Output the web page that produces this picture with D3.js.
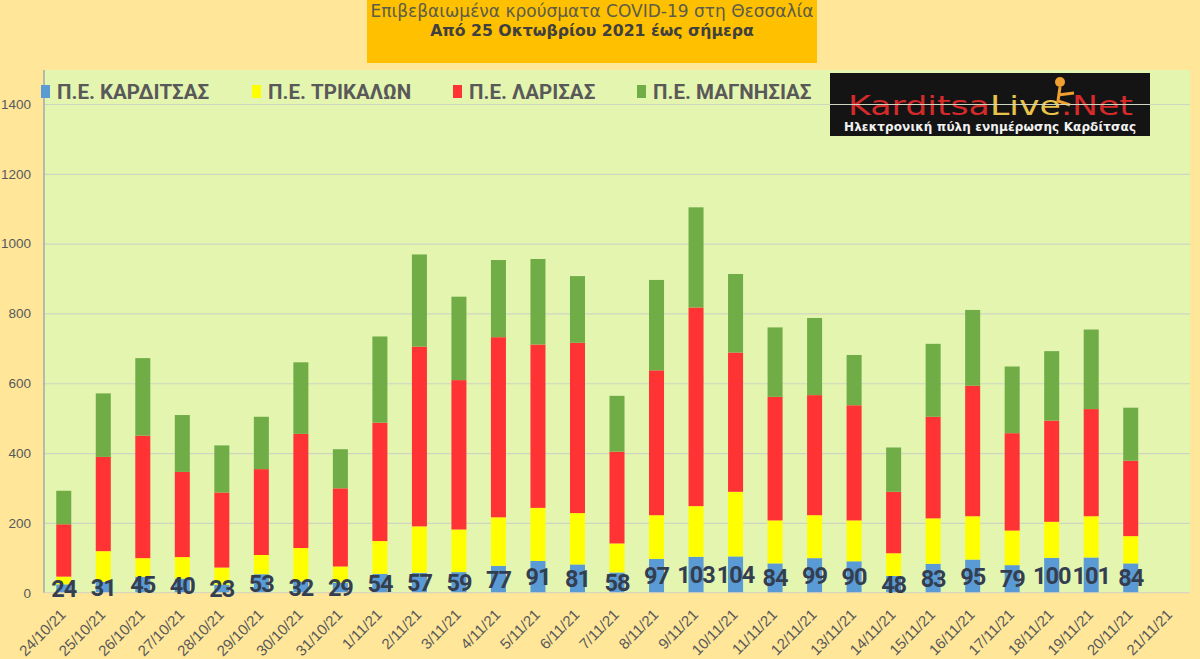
<!DOCTYPE html>
<html>
<head>
<meta charset="utf-8">
<script src="https://cdn.jsdelivr.net/npm/d3@7"></script>
<style>
  body { margin: 0; background: #ffe699; }
  svg { display: block; }
</style>
</head>
<body>
<div id="chart"></div>
<script>
// data
const dates = ['24/10/21', '25/10/21', '26/10/21', '27/10/21', '28/10/21', '29/10/21', '30/10/21', '31/10/21',
  '1/11/21', '2/11/21', '3/11/21', '4/11/21', '5/11/21', '6/11/21', '7/11/21', '8/11/21', '9/11/21', '10/11/21',
  '11/11/21', '12/11/21', '13/11/21', '14/11/21', '15/11/21', '16/11/21', '17/11/21', '18/11/21', '19/11/21',
  '20/11/21', '21/11/21'];

const karditsa = [24, 31, 45, 40, 23, 53, 32, 29, 54, 57, 59, 77, 91, 81, 58, 97, 103, 104, 84, 99, 90, 48, 83, 95, 79, 100, 101, 84];
const trikala = [22, 88, 54, 62, 49, 55, 96, 46, 94, 133, 122, 139, 152, 147, 83, 125, 145, 185, 123, 123, 117, 65, 130, 124, 99, 103, 118, 78];
const larisa = [150, 270, 351, 244, 215, 246, 327, 224, 339, 515, 428, 516, 468, 488, 263, 415, 569, 399, 354, 344, 330, 176, 291, 374, 279, 290, 307, 216];
const magnisia = [96, 182, 222, 163, 135, 150, 205, 112, 247, 264, 239, 221, 245, 191, 160, 259, 287, 225, 199, 221, 144, 127, 209, 217, 191, 199, 228, 152];

const seriesNames = ['Π.Ε. ΚΑΡΔΙΤΣΑΣ', 'Π.Ε. ΤΡΙΚΑΛΩΝ', 'Π.Ε. ΛΑΡΙΣΑΣ', 'Π.Ε. ΜΑΓΝΗΣΙΑΣ'];
const yTicks = [0, 200, 400, 600, 800, 1000, 1200, 1400];

const titleLines = ['Επιβεβαιωμένα κρούσματα COVID-19 στη Θεσσαλία', 'Από 25 Οκτωβρίου 2021 έως σήμερα'];

const chart = {
    width: 1200,
    height: 659,
    left: 44,
    right: 1190,
    top: 70,
    bottom: 592.7
};

const colors = ['#5b9bd5', '#ffff00', '#ff3333', '#70ad47'];
const keys = ['k', 't', 'l', 'm'];

let rows = karditsa.map((d, i) => ({
    date: dates[i], k: d, t: trikala[i], l: larisa[i], m: magnisia[i]
}));

let stacked = d3.stack().keys(keys)(rows);

let x = d3.scaleBand()
    .domain(dates)
    .range([chart.left, chart.right])
    .paddingInner(0.62)
    .paddingOuter(0.31);

let y = d3.scaleLinear()
    .domain([0, 1400])
    .range([chart.bottom, 104]);

let svg = d3.select('#chart')
    .append('svg')
    .attr('width', chart.width)
    .attr('height', chart.height);

svg.append('rect')
    .attr('width', chart.width)
    .attr('height', chart.height)
    .attr('fill', '#ffe699');

// title box
svg.append('rect')
    .attr('x', 367)
    .attr('y', 0)
    .attr('width', 450)
    .attr('height', 63)
    .attr('fill', '#ffc000');

svg.selectAll('.title')
    .data(titleLines)
    .join('text')
        .attr('class', 'title')
        .attr('x', 592)
        .attr('y', (d, i) => i === 0 ? 17 : 36)
        .attr('text-anchor', 'middle')
        .style('font-family', 'DejaVu Sans')
        .style('font-size', (d, i) => i === 0 ? '17px' : '15.7px')
        .style('font-weight', (d, i) => i === 0 ? 'normal' : 'bold')
        .style('fill', (d, i) => i === 0 ? '#5c5c4a' : '#404040')
        .text(d => d);

// plot area
svg.append('rect')
    .attr('x', chart.left)
    .attr('y', chart.top)
    .attr('width', chart.right - chart.left)
    .attr('height', chart.bottom - chart.top)
    .attr('fill', '#e4f5b0');

// logo
let logo = svg.append('g').attr('transform', 'translate(830,73)');
logo.append('rect')
    .attr('width', 320)
    .attr('height', 63)
    .attr('fill', '#141414');
logo.append('circle')
    .attr('cx', 230).attr('cy', 9).attr('r', 5)
    .attr('fill', '#f0a030');
logo.append('path')
    .attr('d', 'M230 14 L228 28 L240 32 M228 22 L244 20')
    .attr('stroke', '#f0a030').attr('stroke-width', 3).attr('fill', 'none');
let logoText = logo.append('text')
    .attr('x', 18)
    .attr('y', 42)
    .attr('textLength', 285)
    .attr('lengthAdjust', 'spacingAndGlyphs')
    .style('font-family', 'DejaVu Sans')
    .style('font-size', '27px');
logoText.append('tspan').attr('fill', '#d42a2a').text('Karditsa');
logoText.append('tspan').attr('fill', '#e8c34a').text('Live');
logoText.append('tspan').attr('fill', '#d42a2a').text('.Net');
logo.append('text')
    .attr('x', 160)
    .attr('y', 58)
    .attr('text-anchor', 'middle')
    .attr('textLength', 292)
    .style('font-family', 'DejaVu Sans')
    .style('font-weight', 'bold')
    .style('font-size', '12px')
    .style('fill', '#f2f2f2')
    .text('Ηλεκτρονική πύλη ενημέρωσης Καρδίτσας');

// gridlines
svg.append('g')
    .attr('transform', `translate(${chart.left},0)`)
    .call(d3.axisLeft(y).tickValues(yTicks.slice(1)).tickSize(-(chart.right - chart.left)).tickFormat(''))
    .call(g => g.select('.domain').remove())
    .call(g => g.selectAll('line').attr('stroke', '#cfd6c0').attr('stroke-width', 1.2));

// y axis labels
svg.append('g')
    .attr('transform', `translate(${chart.left},0)`)
    .call(d3.axisLeft(y).tickValues(yTicks).tickSize(0).tickPadding(13).tickFormat(d3.format('d')))
    .call(g => g.select('.domain').remove())
    .call(g => g.selectAll('text')
        .style('font-family', 'Liberation Sans')
        .style('font-size', '13.5px')
        .style('fill', '#595959'));

// bars
svg.append('g')
    .selectAll('g')
    .data(stacked)
    .join('g')
        .attr('fill', (d, i) => colors[i])
    .selectAll('rect')
    .data(d => d)
    .join('rect')
        .attr('x', d => x(d.data.date))
        .attr('y', d => y(d[1]))
        .attr('width', x.bandwidth())
        .attr('height', d => y(d[0]) - y(d[1]));

// axis lines
svg.append('line')
    .attr('x1', chart.left).attr('x2', chart.left)
    .attr('y1', chart.top).attr('y2', chart.bottom)
    .attr('stroke', '#8c9aab').attr('stroke-width', 1.2);
svg.append('line')
    .attr('x1', chart.left).attr('x2', chart.right)
    .attr('y1', chart.bottom).attr('y2', chart.bottom)
    .attr('stroke', '#d0d0c0').attr('stroke-width', 1);

// x axis labels
svg.append('g')
    .attr('transform', `translate(0,${chart.bottom})`)
    .call(d3.axisBottom(x).tickSize(0))
    .call(g => g.select('.domain').remove())
    .call(g => g.selectAll('text')
        .attr('x', 0).attr('y', 0).attr('dy', 0)
        .attr('transform', 'translate(3,23) rotate(-45)')
        .attr('text-anchor', 'end')
        .style('font-family', 'Liberation Sans')
        .style('font-size', '15px')
        .style('fill', '#595959'));

// value labels for Karditsa
svg.append('g')
    .selectAll('text')
    .data(stacked[0])
    .join('text')
        .attr('x', d => x(d.data.date) + x.bandwidth() / 2)
        .attr('y', d => (y(d[0]) + y(d[1])) / 2)
        .attr('dy', '0.36em')
        .attr('text-anchor', 'middle')
        .style('font-family', 'Roboto')
        .style('font-weight', 'bold')
        .style('font-size', '23.5px')
        .style('letter-spacing', '-1px')
        .style('fill', '#333f50')
        .text(d => d.data.k);

// legend
let legendX = [41, 252, 453, 637];
let legend = svg.append('g')
    .selectAll('g')
    .data(seriesNames)
    .join('g')
        .attr('transform', (d, i) => `translate(${legendX[i]},85)`);
legend.append('rect')
    .attr('width', 9)
    .attr('height', 13)
    .attr('fill', (d, i) => colors[i]);
legend.append('text')
    .attr('x', 16)
    .attr('y', 14)
    .style('font-family', 'Roboto')
    .style('font-weight', 'bold')
    .style('font-size', '20.5px')
    .style('fill', '#595959')
    .text(d => d);
</script>
</body>
</html>
